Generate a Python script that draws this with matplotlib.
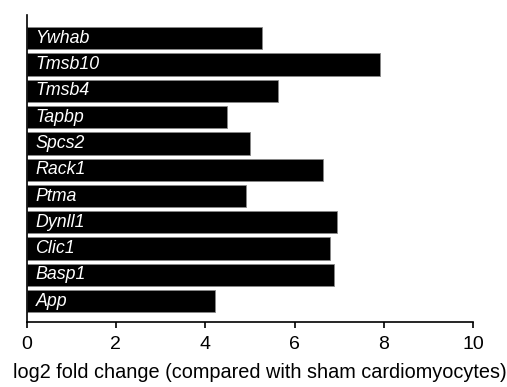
import matplotlib
matplotlib.use("Agg")
import matplotlib.pyplot as plt

genes = ["Ywhab", "Tmsb10", "Tmsb4", "Tapbp", "Spcs2", "Rack1", "Ptma",
         "Dynll1", "Clic1", "Basp1", "App"]
log2fc = [5.27, 7.92, 5.62, 4.49, 5.01, 6.63, 4.91, 6.95, 6.80, 6.88, 4.23]
xticks = [0, 2, 4, 6, 8, 10]

plt.rcParams['font.family'] = ['Liberation Sans', 'DejaVu Sans']

fig = plt.figure(figsize=(5.07, 3.87), dpi=100)
ax = fig.add_axes([0.0523, 0.168, 0.8812, 0.793])

n = len(genes)
ypos = list(range(n - 1, -1, -1))
ax.barh(ypos, log2fc, height=0.85, color="black", edgecolor="#888888", linewidth=0.6)
for y, g in zip(ypos, genes):
    ax.text(0.2, y, g, color="white", fontstyle="italic", fontsize=12.8,
            va="center", ha="left")

ax.set_xlim(0, 10)
ax.set_ylim(-0.79, n - 1 + 0.88)
ax.set_xticks(xticks)
ax.set_xticklabels([str(t) for t in xticks], fontsize=14)
ax.set_yticks([])
ax.tick_params(axis="x", direction="out", length=4.5, width=1.2, pad=5.5)
for s in ["top", "right"]:
    ax.spines[s].set_visible(False)
ax.spines["left"].set_linewidth(1.2)
ax.spines["bottom"].set_linewidth(1.2)
ax.set_xlabel("log2 fold change (compared with sham cardiomyocytes)", fontsize=14.3, labelpad=7)
ax.xaxis.label.set_x(0.522)

fig.savefig("out.png", dpi=100)
